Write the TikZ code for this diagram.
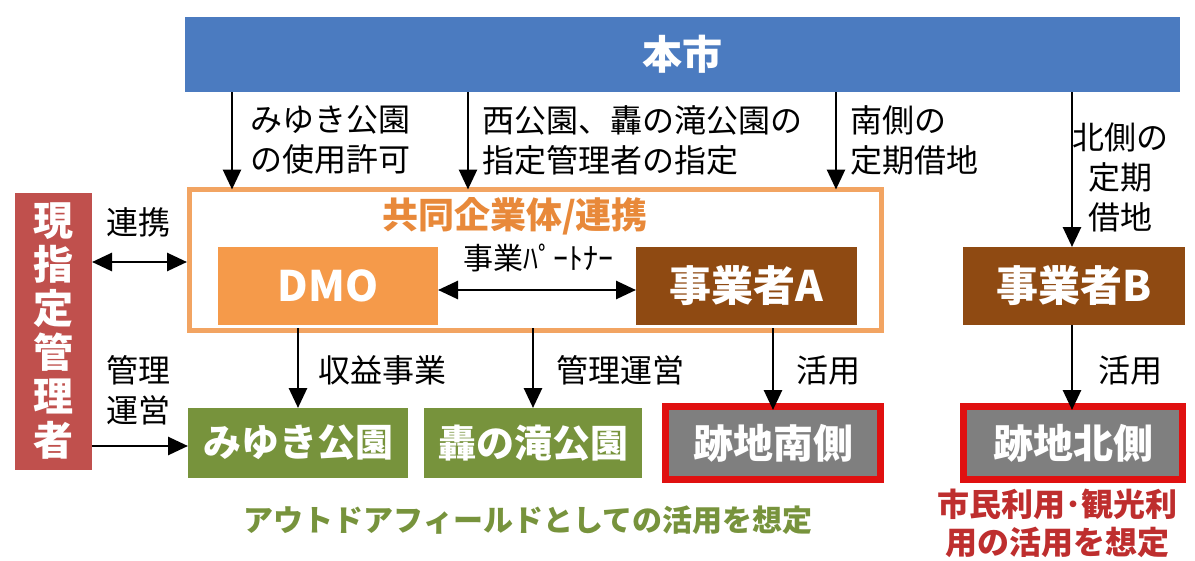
\documentclass[tikz,border=0pt]{standalone}
\usepackage{fontspec}
\setmainfont{Noto Sans CJK JP}
\usetikzlibrary{arrows.meta}
\definecolor{cblue}{HTML}{4B7BC0}
\definecolor{cborder}{HTML}{F2A462}
\definecolor{ctitle}{HTML}{E8893A}
\definecolor{cdmo}{HTML}{F59A4A}
\definecolor{cbrown}{HTML}{8F4A12}
\definecolor{cred}{HTML}{C0504D}
\definecolor{cgreen}{HTML}{77933C}
\definecolor{cgray}{HTML}{7F7F7F}
\definecolor{cframe}{HTML}{E01010}
\definecolor{cnote}{HTML}{BE2E2E}
\begin{document}
\begin{tikzpicture}[x=1pt,y=-1pt,
  box/.style={inner sep=0pt, outer sep=0pt, text=white, font=\bfseries\fontsize{42}{44}\selectfont},
  lab/.style={inner sep=0pt, outer sep=0pt, align=left, font=\fontsize{32}{40}\selectfont},
  arr/.style={line width=2.8pt, -{Triangle[width=18pt,length=20pt]}},
  darr/.style={line width=2.8pt, {Triangle[width=18pt,length=20pt]}-{Triangle[width=18pt,length=20pt]}}]
\useasboundingbox (0,0) rectangle (1195,560);
% top bar
\node[box, fill=cblue, minimum width=995pt, minimum height=75pt, font=\bfseries\fontsize{40}{42}\selectfont] (honshi) at (682.5,54.5) {本市};
% joint venture frame
\node[draw=cborder, line width=5pt, inner sep=0pt, outer sep=0pt, minimum width=692pt, minimum height=141pt] (jv) at (535.5,260) {};
\node[inner sep=0pt, text=ctitle, font=\bfseries\fontsize{36}{40}\selectfont] (jvt) at (515,216) {共同企業体/連携};
% boxes
\node[box, fill=cdmo, minimum width=220pt, minimum height=78pt] (dmo) at (328,286) {DMO};
\node[box, fill=cbrown, minimum width=221pt, minimum height=78pt] (ja) at (746.5,286) {事業者A};
\node[box, fill=cbrown, minimum width=222pt, minimum height=78pt] (jb) at (1074,286) {事業者B};
\node[box, fill=cred, minimum width=77pt, minimum height=277pt, align=center, font=\bfseries\fontsize{40}{44}\selectfont] (gen) at (53.5,331.5) {現\\指\\定\\管\\理\\者};
\node[box, fill=cgreen, minimum width=220pt, minimum height=70pt, font=\bfseries\fontsize{38}{40}\selectfont] (miyuki) at (298,443) {みゆき公園};
\node[box, fill=cgreen, minimum width=218pt, minimum height=70pt, font=\bfseries\fontsize{38}{40}\selectfont] (todoro) at (533,443) {轟の滝公園};
\node[box, fill=cgray, draw=cframe, line width=7pt, minimum width=215pt, minimum height=73pt, font=\bfseries\fontsize{40}{42}\selectfont] (minami) at (773,443) {跡地南側};
\node[box, fill=cgray, draw=cframe, line width=7pt, minimum width=219pt, minimum height=73pt, font=\bfseries\fontsize{40}{42}\selectfont] (kita) at (1073,443) {跡地北側};
% labels
\node[lab, anchor=west] (l1) at (250,140) {みゆき公園\\の使用許可};
\node[lab, anchor=west] (l2) at (482,140) {西公園、轟の滝公園の\\指定管理者の指定};
\node[lab, anchor=west] (l3) at (850,140) {南側の\\定期借地};
\node[lab, align=center] (l4) at (1120,177) {北側の\\定期\\借地};
\node[lab] (l5) at (138,222) {連携};
\node[lab] (l6) at (138,390) {管理\\運営};
\node[lab, anchor=west] (l7) at (318,370) {収益事業};
\node[lab, anchor=west] (l8) at (556,370) {管理運営};
\node[lab, anchor=west] (l9) at (796,370) {活用};
\node[lab, anchor=west] (l10) at (1098,370) {活用};
\node[inner sep=0pt, font=\fontsize{30}{32}\selectfont] (l11) at (538,258) {事業ﾊﾟｰﾄﾅｰ};
\node[inner sep=0pt, text=cgreen, font=\bfseries\fontsize{30}{36}\selectfont] (n1) at (528,520) {アウトドアフィールドとしての活用を想定};
\node[inner sep=0pt, text=cnote, align=center, font=\bfseries\fontsize{32}{38}\selectfont] (n2) at (1057,523) {市民利用･観光利\\用の活用を想定};
% connector x positions
\coordinate (x1) at (232,0);
\coordinate (x2) at (468,0);
\coordinate (x3) at (836,0);
\coordinate (x4) at (1072,0);
\coordinate (x5) at (298,0);
\coordinate (x6) at (533,0);
\coordinate (x7) at (773,0);
\coordinate (y1) at (0,262);
\coordinate (y2) at (0,290);
\coordinate (y3) at (0,446);
% arrows
\draw[arr] (honshi.south -| x1) -- (jv.north -| x1);
\draw[arr] (honshi.south -| x2) -- (jv.north -| x2);
\draw[arr] (honshi.south -| x3) -- (jv.north -| x3);
\draw[arr] (honshi.south -| x4) -- (jb.north -| x4);
\draw[darr] (gen.east |- y1) -- ([xshift=-2.5pt]jv.west |- y1);
\draw[darr] (dmo.east |- y2) -- (ja.west |- y2);
\draw[arr] (gen.east |- y3) -- (miyuki.west |- y3);
\draw[arr] ([yshift=2.5pt]jv.south -| x5) -- (miyuki.north -| x5);
\draw[arr] ([yshift=2.5pt]jv.south -| x6) -- (todoro.north -| x6);
\draw[arr] ([yshift=2.5pt]jv.south -| x7) -- ([yshift=-3.5pt]minami.north -| x7);
\draw[arr] (jb.south -| x4) -- ([yshift=-3.5pt]kita.north -| x4);
\end{tikzpicture}
\end{document}
